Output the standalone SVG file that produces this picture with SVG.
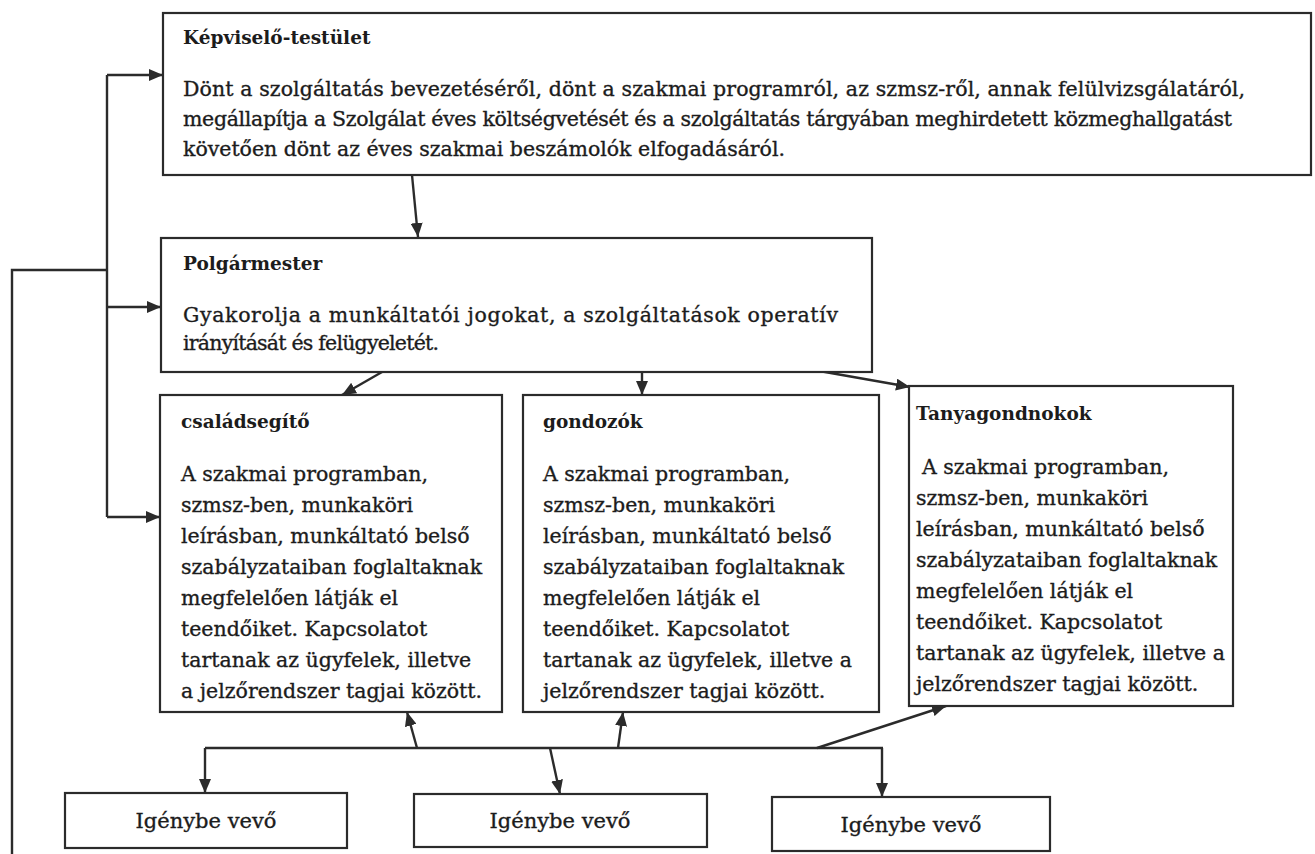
<svg xmlns="http://www.w3.org/2000/svg" width="1315" height="854" viewBox="0 0 1315 854">
<defs>
<marker id="ah" viewBox="0 0 14 12" refX="14" refY="6" markerWidth="14" markerHeight="12" markerUnits="userSpaceOnUse" orient="auto"><path d="M0,0 L14,6 L0,12 z" fill="#2b2b2b"/></marker>
</defs>
<style>
.box{fill:#fff;stroke:#2b2b2b;stroke-width:2.2}
.t{font-family:"DejaVu Serif","Liberation Serif",serif;font-size:20.5px;fill:#1c1c1c;stroke:#1c1c1c;stroke-width:0.35}
.h{font-family:"DejaVu Serif","Liberation Serif",serif;font-size:18.5px;font-weight:bold;fill:#1c1c1c}
.m{text-anchor:middle}
.c{fill:none;stroke:#2b2b2b;stroke-width:2.4}
.a{marker-end:url(#ah)}
</style>
<rect width="1315" height="854" fill="#fff"/>
<g id="connectors">
<line class="c a" x1="412" y1="175" x2="418" y2="237"/>
<line class="c a" x1="382" y1="372" x2="342" y2="395"/>
<line class="c a" x1="642" y1="372" x2="642" y2="395"/>
<line class="c a" x1="808" y1="369" x2="910" y2="387"/>
<line class="c" x1="107" y1="75" x2="107" y2="517"/>
<line class="c a" x1="107" y1="75" x2="163" y2="75"/>
<line class="c a" x1="107" y1="307" x2="161" y2="307"/>
<line class="c a" x1="107" y1="517" x2="160" y2="517"/>
<polyline class="c" points="107,270 12,270 12,854"/>
<line class="c" x1="205" y1="748" x2="883" y2="748"/>
<line class="c a" x1="205" y1="748" x2="205" y2="793"/>
<line class="c a" x1="417" y1="748" x2="407" y2="712"/>
<line class="c a" x1="550" y1="748" x2="560" y2="794"/>
<line class="c a" x1="618" y1="748" x2="623" y2="712"/>
<line class="c a" x1="817" y1="748" x2="946" y2="706"/>
<line class="c a" x1="882" y1="748" x2="882" y2="797"/>
</g>
<g id="kepviselo">
<rect class="box" x="163" y="13" width="1148" height="162"/>
<text class="h" x="183" y="44">Képviselő-testület</text>
<text class="t" x="183" y="96" textLength="1062">Dönt a szolgáltatás bevezetéséről, dönt a szakmai programról, az szmsz-ről, annak felülvizsgálatáról,</text>
<text class="t" x="183" y="126" textLength="1049">megállapítja a Szolgálat éves költségvetését és a szolgáltatás tárgyában meghirdetett közmeghallgatást</text>
<text class="t" x="183" y="156" textLength="602">követően dönt az éves szakmai beszámolók elfogadásáról.</text>
</g>
<g id="polgarmester">
<rect class="box" x="161" y="238" width="711" height="134"/>
<text class="h" x="183" y="270">Polgármester</text>
<text class="t" x="183" y="322" textLength="655">Gyakorolja a munkáltatói jogokat, a szolgáltatások operatív</text>
<text class="t" x="183" y="350" textLength="256">irányítását és felügyeletét.</text>
</g>
<g id="csaladsegito">
<rect class="box" x="160" y="395" width="342" height="317"/>
<text class="h" x="181" y="428">családsegítő</text>
<text class="t" x="181" y="481">A szakmai programban,</text>
<text class="t" x="181" y="512">szmsz-ben, munkaköri</text>
<text class="t" x="181" y="543">leírásban, munkáltató belső</text>
<text class="t" x="181" y="574">szabályzataiban foglaltaknak</text>
<text class="t" x="181" y="605">megfelelően látják el</text>
<text class="t" x="181" y="636">teendőiket. Kapcsolatot</text>
<text class="t" x="181" y="667">tartanak az ügyfelek, illetve</text>
<text class="t" x="181" y="698">a jelzőrendszer tagjai között.</text>
</g>
<g id="gondozok">
<rect class="box" x="523" y="395" width="356" height="317"/>
<text class="h" x="543" y="428">gondozók</text>
<text class="t" x="543" y="481">A szakmai programban,</text>
<text class="t" x="543" y="512">szmsz-ben, munkaköri</text>
<text class="t" x="543" y="543">leírásban, munkáltató belső</text>
<text class="t" x="543" y="574">szabályzataiban foglaltaknak</text>
<text class="t" x="543" y="605">megfelelően látják el</text>
<text class="t" x="543" y="636">teendőiket. Kapcsolatot</text>
<text class="t" x="543" y="667">tartanak az ügyfelek, illetve a</text>
<text class="t" x="543" y="698">jelzőrendszer tagjai között.</text>
</g>
<g id="tanyagondnokok">
<rect class="box" x="909" y="386" width="324" height="320"/>
<text class="h" x="916" y="420">Tanyagondnokok</text>
<text class="t" x="922" y="474">A szakmai programban,</text>
<text class="t" x="916" y="505">szmsz-ben, munkaköri</text>
<text class="t" x="916" y="536">leírásban, munkáltató belső</text>
<text class="t" x="916" y="567">szabályzataiban foglaltaknak</text>
<text class="t" x="916" y="598">megfelelően látják el</text>
<text class="t" x="916" y="629">teendőiket. Kapcsolatot</text>
<text class="t" x="916" y="660">tartanak az ügyfelek, illetve a</text>
<text class="t" x="916" y="691">jelzőrendszer tagjai között.</text>
</g>
<g id="igenybe1">
<rect class="box" x="65" y="793" width="282" height="55"/>
<text class="t m" x="206" y="828" style="font-size:21px">Igénybe vevő</text>
</g>
<g id="igenybe2">
<rect class="box" x="414" y="794" width="293" height="53"/>
<text class="t m" x="560" y="828" style="font-size:21px">Igénybe vevő</text>
</g>
<g id="igenybe3">
<rect class="box" x="772" y="797" width="278" height="54"/>
<text class="t m" x="911" y="832" style="font-size:21px">Igénybe vevő</text>
</g>
</svg>
